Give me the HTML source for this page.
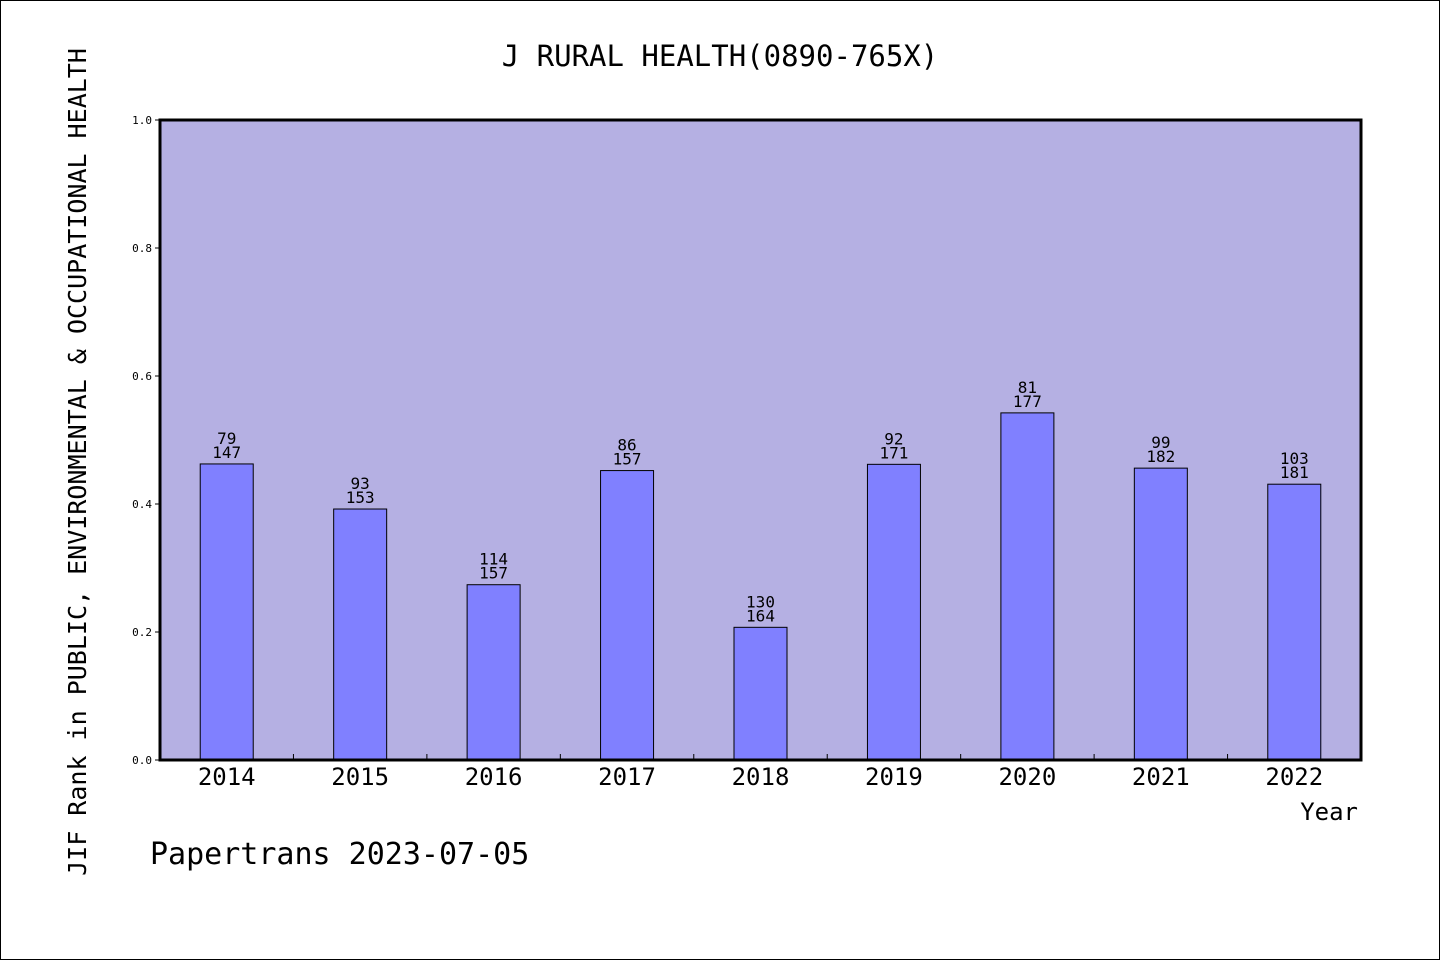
<!DOCTYPE html>
<html><head><meta charset="utf-8"><style>
html,body{margin:0;padding:0;background:#fff}
svg{display:block}
text{font-family:"WenQuanYi Zen Hei","DejaVu Sans Mono",monospace;fill:#000}
</style></head><body>
<svg id="chart" width="1440" height="960">
<rect x="0.5" y="0.5" width="1439" height="959" fill="#fff" stroke="#000"/>
<text x="720" y="66" text-anchor="middle" font-size="29">J RURAL HEALTH(0890-765X)</text>
<rect x="160" y="120" width="1201" height="640" fill="#b5b0e3"/>
<g id="bars"></g>
<rect x="160" y="120" width="1201" height="640" fill="none" stroke="#000" stroke-width="3"/>
<text transform="translate(86,462) rotate(-90)" text-anchor="middle" font-size="25">JIF Rank in PUBLIC, ENVIRONMENTAL &amp; OCCUPATIONAL HEALTH</text>
<text x="1358" y="820" text-anchor="end" font-size="24">Year</text>
<text x="150" y="864" font-size="30">Papertrans 2023-07-05</text>
</svg>
<script>
const years=["2014","2015","2016","2017","2018","2019","2020","2021","2022"];
const ranks=[79,93,114,86,130,92,81,99,103];
const totals=[147,153,157,157,164,171,177,182,181];
const yTicks=[0,0.2,0.4,0.6,0.8,1.0];
const NS="http://www.w3.org/2000/svg";
const L=160,R=1361,T=120,B=760;
const step=(R-L)/years.length;
const xc=i=>L+step*(i+0.5);
const y=v=>B-(v)*(B-T);
const g=document.getElementById('bars');
const svg=document.getElementById('chart');
function mk(tag,attrs,parent){const e=document.createElementNS(NS,tag);for(const k in attrs)e.setAttribute(k,attrs[k]);(parent||g).appendChild(e);return e;}
years.forEach((yr,i)=>{
  const v=1-ranks[i]/totals[i];
  const bw=53;
  const r=mk('rect',{x:xc(i)-bw/2,y:y(v),width:bw,height:B-y(v),fill:'#8080ff',stroke:'#000','stroke-width':1});
  
  
  const t1=mk('text',{x:xc(i),y:y(v)-20,'text-anchor':'middle','font-size':16});
  t1.textContent=ranks[i];
  
  
  const t2=mk('text',{x:xc(i),y:y(v)-6,'text-anchor':'middle','font-size':16});
  t2.textContent=totals[i];
  
  
  const xl=mk('text',{x:xc(i),y:785,'text-anchor':'middle','font-size':24},svg);
  xl.textContent=yr;
  
  
  if(i>0){
    const tk=mk('line',{x1:L+step*i,x2:L+step*i,y1:B,y2:B-6,stroke:'#000','stroke-width':1},svg);
    
    
  }
});
yTicks.forEach(v=>{
  const tk=mk('line',{x1:L-5,x2:L,y1:y(v),y2:y(v),stroke:'#000','stroke-width':1},svg);
  
  
  const tl=mk('text',{x:152,y:y(v)+4,'text-anchor':'end','font-size':11},svg);
  tl.textContent=v.toFixed(1);
  
  
});
</script>
</body></html>
